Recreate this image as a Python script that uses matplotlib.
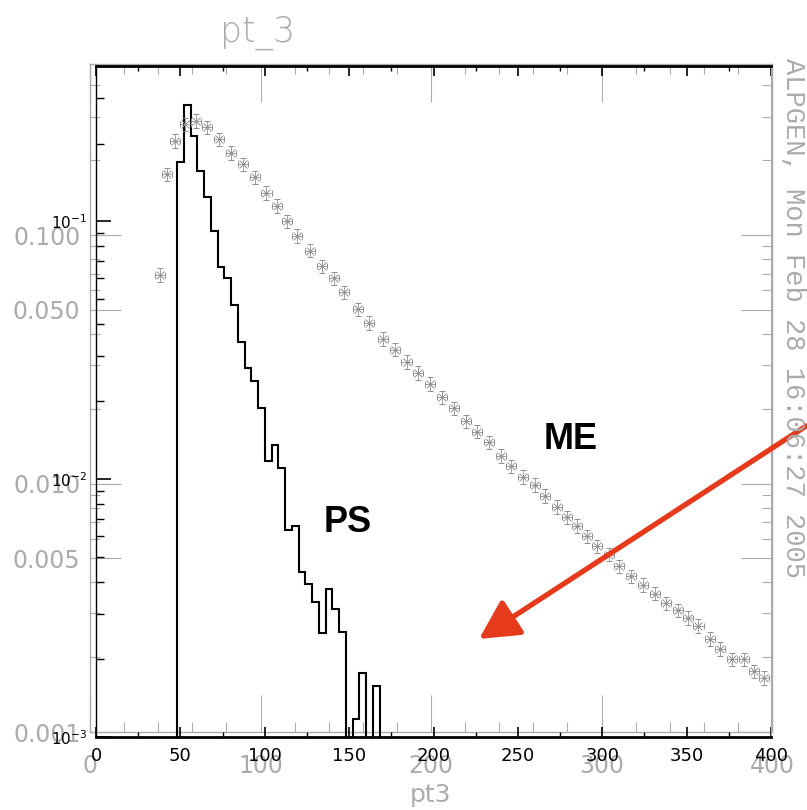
import numpy as np
import matplotlib
matplotlib.use("Agg")
import matplotlib.pyplot as plt
from matplotlib.ticker import FixedLocator, MultipleLocator, LogLocator, NullFormatter

# PS: histogramme (bins de 4), bords gauches + contenu
ps_edges = [48, 52, 56, 60, 64, 68, 72, 76, 80, 84, 88, 92, 96, 100, 104, 108, 112,
            116, 120, 124, 128, 132, 136, 140, 144, 148, 152, 156, 160, 164, 168]
ps_vals = [0.169, 0.283, 0.214, 0.157, 0.124, 0.0917, 0.0667, 0.0604, 0.0473, 0.0341,
           0.0270, 0.0240, 0.0189, 0.0118, 0.0136, 0.0110, 0.00633, 0.00656, 0.00435,
           0.00393, 0.00335, 0.00254, 0.00374, 0.00313, 0.00255, 0.0, 0.00117, 0.00177,
           0.0, 0.00158]

# ME: points (gris)
me_x = [38, 42, 47, 53, 59, 66, 73, 80, 87, 94, 101, 107, 113, 119, 127, 134, 141, 147,
        155, 162, 170, 177, 184, 191, 198, 205, 212, 219, 226, 233, 240, 246, 253, 260,
        266, 273, 279, 285, 291, 297, 304, 310, 317, 324, 331, 338, 345, 351, 357, 364,
        370, 377, 384, 390, 396]
me_y = [0.062, 0.152, 0.205, 0.238, 0.245, 0.231, 0.208, 0.184, 0.166, 0.148, 0.129,
        0.115, 0.100, 0.088, 0.077, 0.067, 0.060, 0.053, 0.0455, 0.0404, 0.0350, 0.0318,
        0.0285, 0.0258, 0.0234, 0.0208, 0.0188, 0.0168, 0.0153, 0.0139, 0.0123, 0.0112,
        0.0102, 0.0095, 0.0086, 0.0078, 0.0071, 0.0066, 0.0060, 0.0055, 0.0051, 0.0046,
        0.0042, 0.0039, 0.0036, 0.0033, 0.0031, 0.0029, 0.0027, 0.0024, 0.0022, 0.0020,
        0.0020, 0.0018, 0.0017]

gray_xticks = [0, 100, 200, 300, 400]
gray_yticks = [0.001, 0.005, 0.01, 0.05, 0.1]
gray_ylabels = ["0.001", "0.005", "0.010", "0.050", "0.100"]
black_yticks = [1e-3, 1e-2, 1e-1]
black_ylabels = [r"$10^{-3}$", r"$10^{-2}$", r"$10^{-1}$"]

W, H = 807, 810
fig = plt.figure(figsize=(W / 100, H / 100), dpi=100)
GRAY = "#ababab"

def px_box(l, r, t, b):
    return [l / W, 1 - b / H, (r - l) / W, (b - t) / H]

# --- cadre gris (second histogramme superposé) ---
ax2 = fig.add_axes(px_box(90, 772, 64, 732))
ax2.set_facecolor("none")
ax2.set_xlim(0, 400)
ax2.set_yscale("log")
ax2.set_ylim(0.001, 0.488)
for s in ax2.spines.values():
    s.set_color(GRAY)
    s.set_linewidth(1.0)
ax2.xaxis.set_major_locator(FixedLocator(gray_xticks))
ax2.xaxis.set_minor_locator(MultipleLocator(20))
ax2.yaxis.set_major_locator(FixedLocator(gray_yticks))
ax2.set_yticklabels(gray_ylabels)
ax2.yaxis.set_minor_locator(LogLocator(subs=np.arange(2, 10)))
ax2.yaxis.set_minor_formatter(NullFormatter())
ax2.tick_params(axis="x", which="major", direction="in", length=27, width=0.8,
                color=GRAY, top=True, labelcolor=GRAY, labelsize=17, pad=16)
ax2.tick_params(axis="x", which="minor", direction="in", length=7, width=0.8,
                color=GRAY, top=True)
ax2.tick_params(axis="y", which="major", direction="in", length=22, width=0.8,
                color=GRAY, right=True, labelcolor=GRAY, labelsize=17, pad=7)
ax2.tick_params(axis="y", which="minor", direction="in", length=7, width=0.8,
                color=GRAY, right=True)

# --- cadre noir ---
ax = fig.add_axes(px_box(96, 771, 66, 737))
ax.set_facecolor("none")
ax.set_xlim(0, 400)
ax.set_yscale("log")
ax.set_ylim(1e-3, 0.40)

ps_plot = np.where(np.array(ps_vals) > 0, ps_vals, 1e-6)
ax.stairs(ps_plot, ps_edges, baseline=1e-6, color="black", lw=1.5)

ax.errorbar(me_x, me_y, xerr=3, yerr=np.array(me_y) * 0.06, fmt="x", color="#8f8f8f",
            ms=6, mew=0.7, elinewidth=0.6, capsize=2, capthick=0.6)

ax.text(149, 0.0068, "PS", fontsize=26, fontweight="bold", family="Liberation Sans",
        ha="center", va="center")
ax.text(281, 0.0142, "ME", fontsize=26, fontweight="bold", family="Liberation Sans",
        ha="center", va="center")

ax.annotate("", xy=(227, 0.0024), xytext=(421, 0.0161), annotation_clip=False,
            arrowprops=dict(arrowstyle="-|>,head_length=0.8,head_width=0.42",
                            color="#e53b1c", lw=3.8, mutation_scale=30,
                            shrinkA=0, shrinkB=0))

ax.xaxis.set_major_locator(MultipleLocator(50))
ax.xaxis.set_minor_locator(MultipleLocator(25))
ax.yaxis.set_major_locator(FixedLocator(black_yticks))
ax.set_yticklabels(black_ylabels)
ax.yaxis.set_minor_locator(LogLocator(subs=np.arange(2, 10)))
ax.yaxis.set_minor_formatter(NullFormatter())
ax.tick_params(axis="x", which="major", direction="in", length=7, width=1.2,
               top=True, labelsize=13, pad=7)
ax.tick_params(axis="x", which="minor", direction="in", length=3.5, width=1.0, top=True)
ax.tick_params(axis="y", which="major", direction="in", length=11, width=1.2,
               labelsize=11, pad=6)
ax.tick_params(axis="y", which="minor", direction="in", length=6, width=1.0)
ax.spines["top"].set_linewidth(2)
ax.spines["bottom"].set_linewidth(2)
ax.spines["left"].set_linewidth(1)
ax.spines["right"].set_color(GRAY)

# textes
fig.text(258 / W, 1 - 33 / H, "pt_3", fontsize=25, color=GRAY, ha="center", va="center",
         fontweight="light")
fig.text(431 / W, 1 - 795 / H, "pt3", fontsize=18, color=GRAY, ha="center", va="center")
fig.text(793 / W, 1 - 58 / H, "ALPGEN, Mon Feb 28 16:06:27 2005", rotation=-90,
         fontsize=19.5, family="Liberation Mono", color=GRAY, ha="center", va="top")

fig.savefig("out.png", dpi=100, facecolor="white")
